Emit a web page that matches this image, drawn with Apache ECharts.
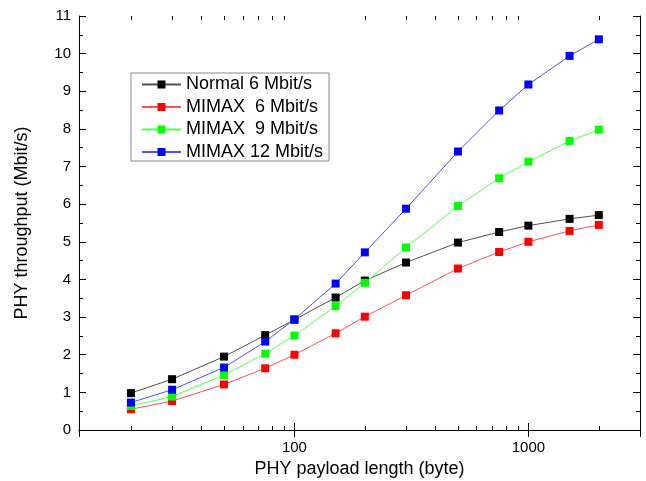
<!DOCTYPE html>
<html>
<head>
<meta charset="utf-8">
<script src="https://cdn.jsdelivr.net/npm/echarts@6/dist/echarts.min.js"></script>
<style>
html,body{margin:0;padding:0;background:#fff;}
#chart{width:646px;height:481px;}
</style>
</head>
<body>
<div id="chart"></div>
<script>
// ---- data ----
const payload = [20, 30, 50, 75, 100, 150, 200, 300, 500, 750, 1000, 1500, 2000];
const normal6 = [0.98, 1.35, 1.95, 2.52, 2.93, 3.52, 3.97, 4.45, 4.98, 5.26, 5.43, 5.61, 5.71];
const mimax6  = [0.55, 0.77, 1.21, 1.64, 2.00, 2.57, 3.01, 3.58, 4.29, 4.73, 5.00, 5.29, 5.45];
const mimax9  = [0.64, 0.89, 1.46, 2.03, 2.51, 3.29, 3.91, 4.85, 5.95, 6.69, 7.13, 7.68, 7.98];
const mimax12 = [0.73, 1.07, 1.66, 2.35, 2.94, 3.89, 4.72, 5.88, 7.40, 8.49, 9.18, 9.94, 10.38];
const seriesNames = ['Normal 6 Mbit/s', 'MIMAX  6 Mbit/s', 'MIMAX  9 Mbit/s', 'MIMAX 12 Mbit/s'];
const xMajorLabels = [100, 1000];
const xMinorTicks = [20, 30, 40, 50, 60, 70, 80, 90, 200, 300, 400, 500, 600, 700, 800, 900, 2000];
const xTitle = 'PHY payload length (byte)';
const yTitle = 'PHY throughput (Mbit/s)';

const FONT = 'Liberation Sans, Arial, sans-serif';
const markerColors = ['#000000', '#ff0000', '#00ff00', '#0000ff'];
const lineColors = ['#505050', '#ff5050', '#50ff50', '#5050ff'];
const allValues = [normal6, mimax6, mimax9, mimax12];

const chart = echarts.init(document.getElementById('chart'), null, {renderer: 'canvas'});

const lineSeries = allValues.map((vals, i) => ({
  name: seriesNames[i],
  type: 'line',
  data: payload.map((x, j) => [x, vals[j]]),
  symbol: 'rect',
  symbolSize: 8,
  itemStyle: {color: markerColors[i]},
  lineStyle: {color: lineColors[i], width: 1},
  emphasis: {disabled: true},
  animation: false,
  z: 3 + i
}));

const axisLineStyle = {show: true, lineStyle: {color: '#000', width: 1}};

const option = {
  animation: false,
  backgroundColor: '#fff',
  grid: {left: 79, right: 6, top: 16, bottom: 51, containLabel: false, outerBoundsMode: 'none'},
  legend: {
    orient: 'vertical',
    left: 131,
    top: 73,
    data: seriesNames,
    itemWidth: 39,
    itemHeight: 10,
    itemGap: 4.5,
    padding: [2.5, 6, 0, 10],
    borderColor: '#888',
    borderWidth: 1,
    backgroundColor: '#fff',
    textStyle: {fontFamily: FONT, fontSize: 18, color: '#000'}
  },
  xAxis: [{
    type: 'log',
    logBase: 10,
    min: 12,
    max: 3000,
    position: 'bottom',
    axisLine: axisLineStyle,
    axisTick: {show: true, inside: true, length: 7, lineStyle: {color: '#000'}},
    minorTick: {show: false},
    splitLine: {show: false},
    axisLabel: {
      fontFamily: FONT, fontSize: 15, color: '#000', margin: 10,
      showMinLabel: false, showMaxLabel: false,
      formatter: v => (xMajorLabels.indexOf(Math.round(v)) >= 0 ? String(Math.round(v)) : '')
    },
    name: xTitle,
    nameLocation: 'middle',
    nameGap: 27,
    nameTextStyle: {fontFamily: FONT, fontSize: 18, color: '#000'}
  }, {
    type: 'log',
    logBase: 10,
    min: 12,
    max: 3000,
    position: 'top',
    axisLine: axisLineStyle,
    axisTick: {show: true, inside: true, length: 7, lineStyle: {color: '#000'}},
    splitLine: {show: false},
    axisLabel: {show: false}
  }],
  yAxis: [{
    type: 'value',
    min: 0,
    max: 11,
    interval: 1,
    position: 'left',
    axisLine: axisLineStyle,
    axisTick: {show: true, inside: true, length: 7, lineStyle: {color: '#000'}},
    minorTick: {show: true, splitNumber: 2, length: 4, lineStyle: {color: '#000'}},
    splitLine: {show: false},
    axisLabel: {fontFamily: FONT, fontSize: 15, color: '#000', margin: 8},
    name: yTitle,
    nameLocation: 'middle',
    nameGap: 48,
    nameTextStyle: {fontFamily: FONT, fontSize: 18, color: '#000'}
  }, {
    type: 'value',
    min: 0,
    max: 11,
    interval: 1,
    position: 'right',
    axisLine: axisLineStyle,
    axisTick: {show: true, inside: true, length: 7, lineStyle: {color: '#000'}},
    minorTick: {show: true, splitNumber: 2, length: 4, lineStyle: {color: '#000'}},
    splitLine: {show: false},
    axisLabel: {show: false}
  }],
  series: [{
    type: 'custom',
    name: 'minorTicks',
    xAxisIndex: 0,
    yAxisIndex: 0,
    silent: true,
    clip: false,
    animation: false,
    data: xMinorTicks.map(v => [v, 0]),
    encode: {x: 0, y: 1},
    renderItem: function (params, api) {
      const v = api.value(0);
      const b = api.coord([v, 0]);
      const t = api.coord([v, 11]);
      const x = Math.round(b[0]) + 0.5;
      return {
        type: 'group',
        children: [
          {type: 'line', shape: {x1: x, y1: b[1], x2: x, y2: b[1] - 4}, style: {stroke: '#000', lineWidth: 1}},
          {type: 'line', shape: {x1: x, y1: t[1], x2: x, y2: t[1] + 4}, style: {stroke: '#000', lineWidth: 1}}
        ]
      };
    },
    z: 1
  }].concat(lineSeries)
};

chart.setOption(option);
</script>
</body>
</html>
